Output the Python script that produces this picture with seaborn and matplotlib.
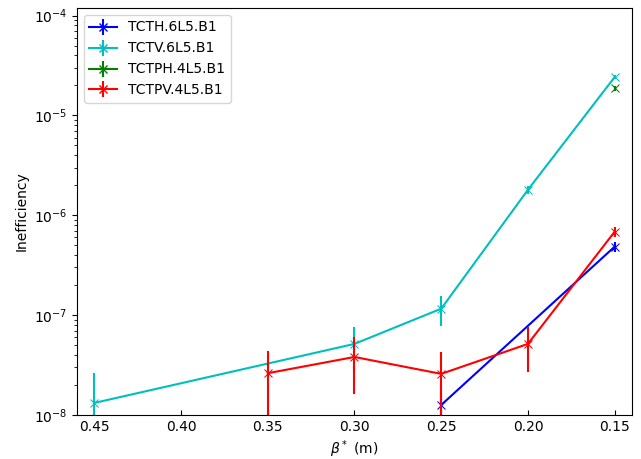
import matplotlib
matplotlib.use("Agg")
import matplotlib.pyplot as plt
import seaborn as sns
import pandas as pd
import numpy as np
from matplotlib.lines import Line2D
from matplotlib.legend_handler import HandlerTuple

sns.set_style("ticks")
plt.rcParams.update(matplotlib.rcParamsDefault)
plt.rcParams['font.family'] = ['DejaVu Sans']

# data
tcth_x = [0.25, 0.15]
tcth_y = [1.26e-8, 4.85e-7]
tcth_err = [0.4e-8, 0.6e-7]

tctv_x = [0.45, 0.30, 0.25, 0.20, 0.15]
tctv_y = [1.32e-8, 5.15e-8, 1.16e-7, 1.80e-6, 2.42e-5]
tctv_err = [1.32e-8, 2.45e-8, 3.8e-8, 1.5e-7, 1.2e-6]

tctph_x = [0.15]
tctph_y = [1.86e-5]
tctph_err = [0.1e-5]

tctpv_x = [0.35, 0.30, 0.25, 0.20, 0.15]
tctpv_y = [2.62e-8, 3.81e-8, 2.58e-8, 5.15e-8, 6.85e-7]
tctpv_err = [1.8e-8, 2.2e-8, 1.7e-8, 2.45e-8, 0.8e-7]

series = [
    ("TCTH.6L5.B1", tcth_x, tcth_y, tcth_err, "b"),
    ("TCTV.6L5.B1", tctv_x, tctv_y, tctv_err, "c"),
    ("TCTPH.4L5.B1", tctph_x, tctph_y, tctph_err, "g"),
    ("TCTPV.4L5.B1", tctpv_x, tctpv_y, tctpv_err, "r"),
]

fig, ax = plt.subplots(figsize=(6.41, 4.59), dpi=100)
handles = []
labels = []
for name, xs, ys, es, c in series:
    df = pd.DataFrame({"x": xs, "y": ys})
    sns.lineplot(data=df, x="x", y="y", ax=ax, color=c, marker="x",
                 markersize=6, markeredgecolor=c, linewidth=1.5,
                 legend=False, sort=False, estimator=None)
    ax.errorbar(xs, ys, yerr=es, fmt="none", ecolor=c, elinewidth=1.5)
    h1 = Line2D([], [], color=c, marker="x", markersize=6, linewidth=1.5)
    h2 = Line2D([], [], color=c, marker="|", markersize=12, markeredgewidth=1.5,
                linestyle="none")
    handles.append((h1, h2))
    labels.append(name)

ax.set_yscale("log")
ax.set_xlim(0.46, 0.14)
ax.set_ylim(1e-8, 1.19e-4)
ax.set_xticks([0.45, 0.40, 0.35, 0.30, 0.25, 0.20, 0.15])
ax.set_xticklabels(["0.45", "0.40", "0.35", "0.30", "0.25", "0.20", "0.15"])
ax.tick_params(axis="x", direction="in")
ax.set_xlabel(r"$\beta^*$ (m)", labelpad=3)
ax.set_ylabel("Inefficiency")
ax.legend(handles, labels, loc="upper left",
          handler_map={tuple: HandlerTuple(ndivide=1)})
fig.subplots_adjust(left=0.120, right=0.986, bottom=0.0959, top=0.9826)
fig.savefig("out.png", dpi=100)
